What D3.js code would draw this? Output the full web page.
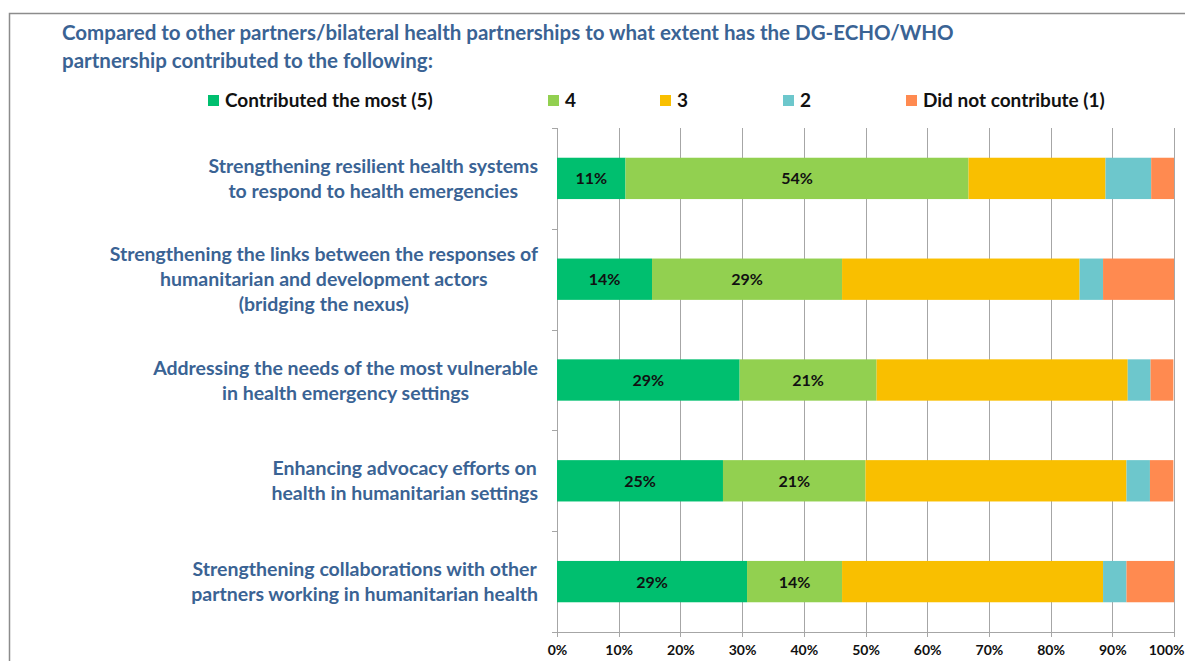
<!DOCTYPE html>
<html lang="en">
<head>
<meta charset="UTF-8">
<title>DG-ECHO/WHO partnership contribution</title>
<script src="https://d3js.org/d3.v7.min.js"></script>
<style>
  body { margin: 0; background: #fff; }
  svg { display: block; font-family: Lato, "Open Sans", sans-serif; }
  .cat text { font-size: 19.5px; font-weight: bold; fill: #3a6394; }
  .seg-label { font-size: 16px; font-weight: bold; fill: #111; }
  .legend text { font-size: 19px; font-weight: bold; fill: #111; }
</style>
</head>
<body>
<svg width="1185" height="661"></svg>
<script>
// data
const categories = [
  ["Strengthening resilient health systems", "to respond to health emergencies"],
  ["Strengthening the links between the responses of", "humanitarian and development actors", "(bridging the nexus)"],
  ["Addressing the needs of the most vulnerable", "in health emergency settings"],
  ["Enhancing advocacy efforts on ", "health in humanitarian settings"],
  ["Strengthening collaborations with other", "partners working in humanitarian health"]
];
const seriesNames = ["Contributed the most (5)", "4", "3", "2", "Did not contribute (1)"];
const most = [11.1, 15.4, 29.6, 26.9, 30.8];
const four = [55.6, 30.8, 22.2, 23.1, 15.4];
const three = [22.2, 38.5, 40.7, 42.3, 42.3];
const two = [7.4, 3.8, 3.7, 3.8, 3.8];
const none = [3.7, 11.5, 3.7, 3.8, 7.7];
const mostLabels = ["11%", "14%", "29%", "25%", "29%"];
const fourLabels = ["54%", "29%", "21%", "21%", "14%"];
const xTicks = [0, 10, 20, 30, 40, 50, 60, 70, 80, 90, 100];

const colors = ["#00bf6f", "#92d050", "#f9bf00", "#6dc7cc", "#ff8a50"];
const titleColor = "#3a6394";

const svg = d3.select("svg");

// outer frame (only top and left edges visible)
svg.append("path")
  .attr("d", "M9.5,661 L9.5,13.5 L1185,13.5")
  .attr("fill", "none").attr("stroke", "#8c8c8c").attr("stroke-width", 1.5);

// title
const title = svg.append("text")
  .attr("fill", titleColor).attr("font-size", 20.5).attr("font-weight", "bold");
title.append("tspan").attr("x", 62).attr("y", 40)
  .text("Compared to other partners/bilateral health partnerships to what extent has the DG-ECHO/WHO");
title.append("tspan").attr("x", 62).attr("y", 68)
  .text("partnership contributed to the following:");

// legend
const legendX = [208, 548, 660, 783, 906];
const legend = svg.append("g").attr("class", "legend")
  .selectAll("g").data(seriesNames).join("g")
  .attr("transform", (d, i) => `translate(${legendX[i]},107)`);
legend.append("rect").attr("x", 0).attr("y", -12).attr("width", 11).attr("height", 11)
  .attr("fill", (d, i) => colors[i]);
legend.append("text").attr("x", 17).attr("y", 0).text(d => d);

// scales
const rows = categories.map((c, i) => ({
  idx: i, s0: most[i], s1: four[i], s2: three[i], s3: two[i], s4: none[i]
}));
const keys = ["s0", "s1", "s2", "s3", "s4"];
const stacked = d3.stack().keys(keys)(rows);

const x = d3.scaleLinear().domain([0, 100]).range([557, 1174]);
const y = d3.scaleBand().domain(d3.range(categories.length)).range([128, 632])
  .paddingInner(0.59).paddingOuter(0.295);

// gridlines
svg.append("g").selectAll("line").data(xTicks).join("line")
  .attr("x1", d => Math.round(x(d)) + 0.5).attr("x2", d => Math.round(x(d)) + 0.5)
  .attr("y1", 128).attr("y2", 637)
  .attr("stroke", "#a6a6a6").attr("stroke-width", 1);

// bottom axis
const xAxis = svg.append("g").attr("transform", "translate(0,632.5)")
  .call(d3.axisBottom(x).tickValues(xTicks).tickFormat(d => d + "%").tickSize(0).tickPadding(13));
xAxis.select(".domain").remove();
xAxis.selectAll("text").attr("font-size", 14).attr("font-weight", "bold").attr("fill", "#111")
  .attr("font-family", "Lato, sans-serif");
xAxis.selectAll(".tick").filter(d => d === 100).select("text")
  .attr("text-anchor", "end").attr("x", 1184 - x(100));
svg.append("line").attr("x1", 552).attr("x2", 1174).attr("y1", 632.5).attr("y2", 632.5)
  .attr("stroke", "#a6a6a6");

// left axis with tick marks at band boundaries
const step = y.step();
const bounds = d3.range(categories.length + 1).map(i => 128 + i * step);
svg.append("line").attr("x1", 557.5).attr("x2", 557.5).attr("y1", 128).attr("y2", 632)
  .attr("stroke", "#a6a6a6");
svg.append("g").selectAll("line").data(bounds).join("line")
  .attr("x1", 552).attr("x2", 557).attr("y1", d => Math.round(d) + 0.5).attr("y2", d => Math.round(d) + 0.5)
  .attr("stroke", "#a6a6a6");

// bars
svg.append("g").selectAll("g").data(stacked).join("g")
  .attr("fill", (d, i) => colors[i])
  .selectAll("rect").data(d => d).join("rect")
  .attr("x", d => x(d[0]))
  .attr("width", d => x(d[1]) - x(d[0]))
  .attr("y", d => y(d.data.idx))
  .attr("height", y.bandwidth());

// segment labels
const segLabels = [mostLabels, fourLabels];
segLabels.forEach((labels, si) => {
  svg.append("g").selectAll("text").data(stacked[si]).join("text")
    .attr("class", "seg-label")
    .attr("x", d => (x(d[0]) + x(d[1])) / 2)
    .attr("y", d => y(d.data.idx) + y.bandwidth() / 2 + 6)
    .attr("text-anchor", "middle")
    .text((d, i) => labels[i]);
});

// category labels: centred lines, longest line ends at x=538
const lineH = 25;
categories.forEach((lines, i) => {
  const g = svg.append("g").attr("class", "cat");
  const cy = y(i) + y.bandwidth() / 2;
  const texts = lines.map((l, j) => g.append("text")
    .attr("y", cy - (lines.length - 1) * lineH / 2 + j * lineH + 7)
    .attr("text-anchor", "middle")
    .text(l));
  const maxW = d3.max(texts, t => t.node().getComputedTextLength());
  texts.forEach(t => t.attr("x", 538 - maxW / 2));
});
</script>
</body>
</html>
